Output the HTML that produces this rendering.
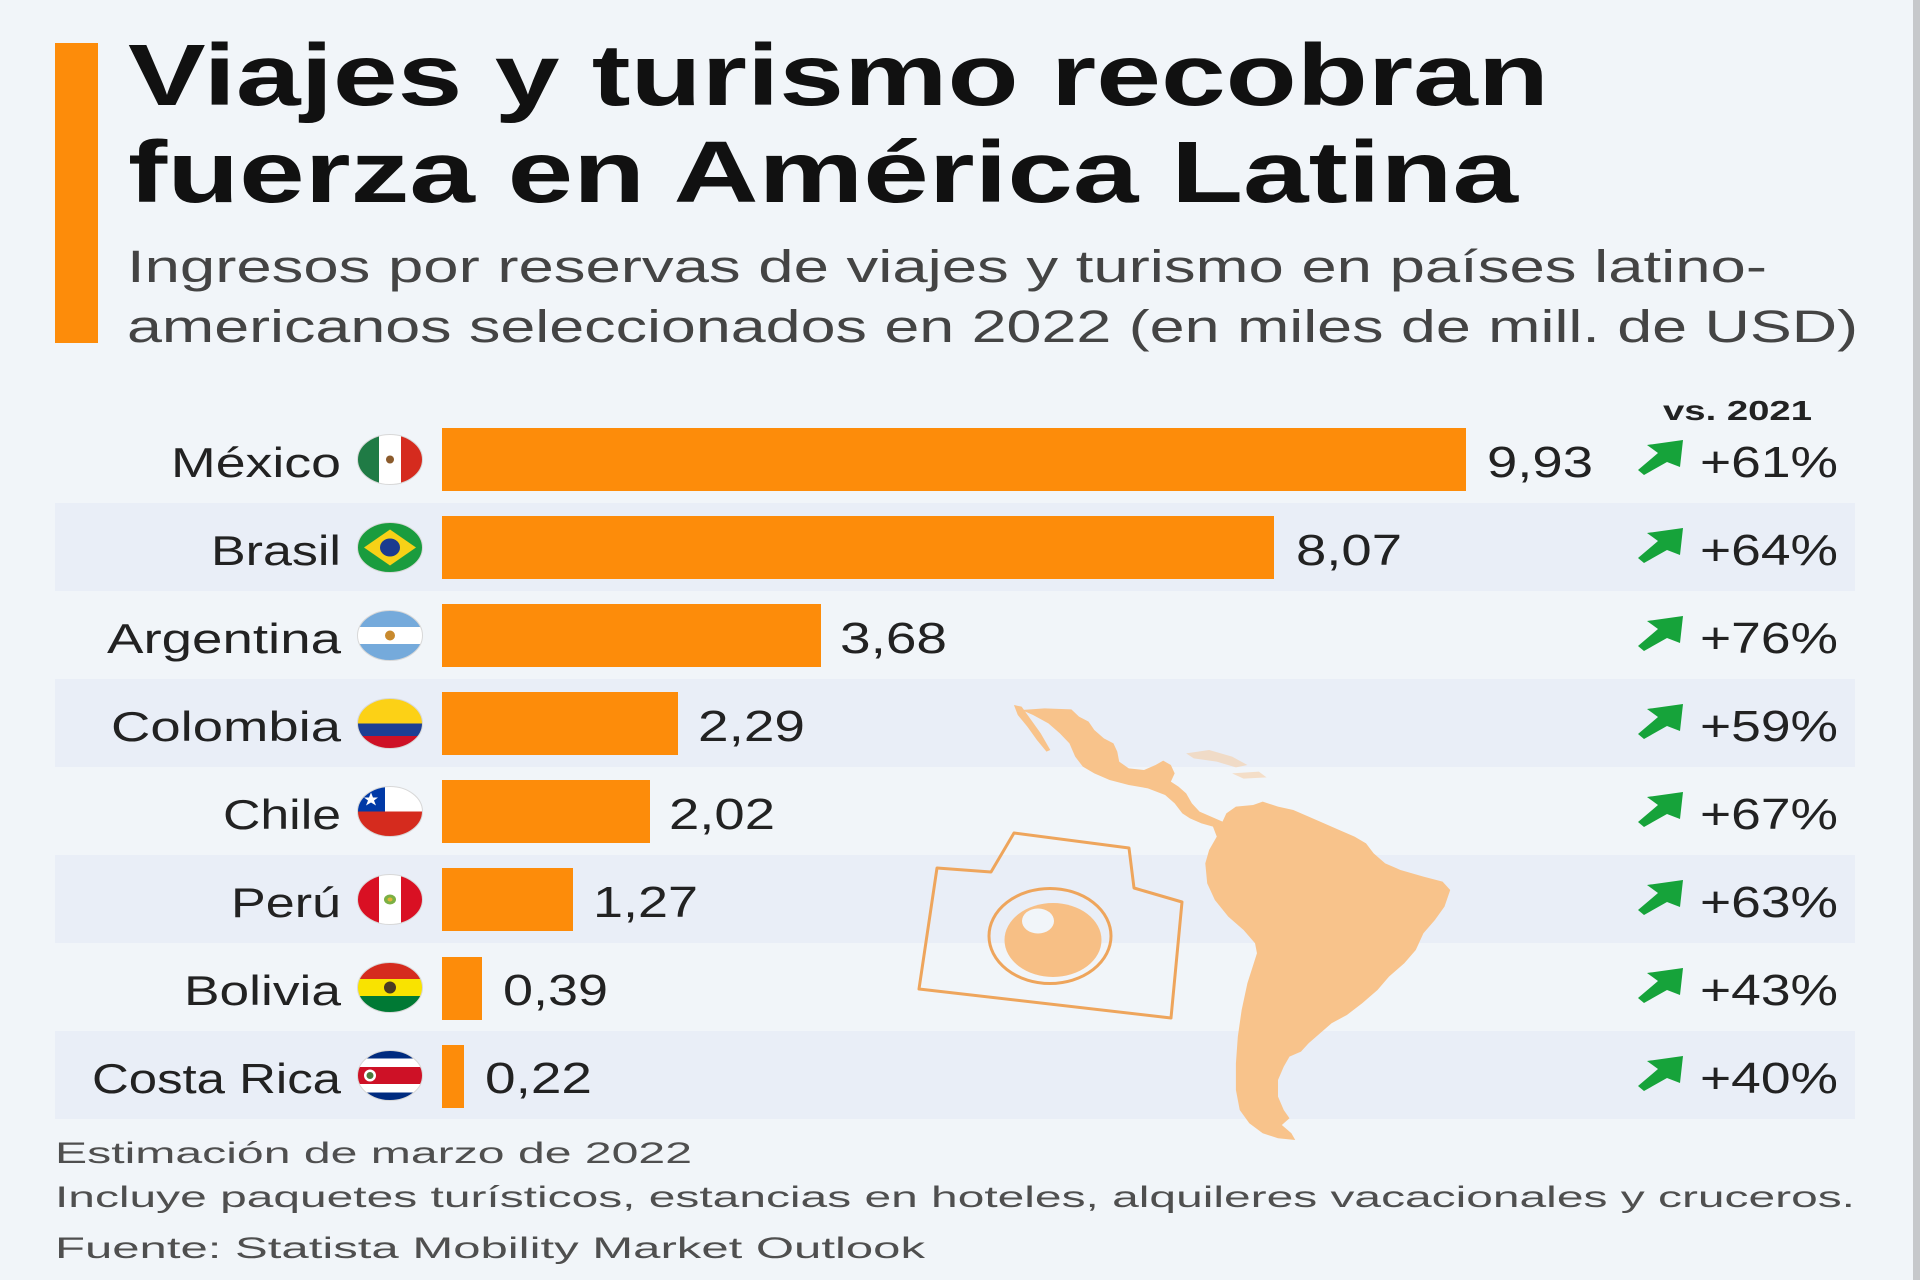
<!DOCTYPE html>
<html>
<head>
<meta charset="utf-8">
<style>
html,body{margin:0;padding:0;background:#f1f5f9;}
svg{display:block;}
text{font-family:"Liberation Sans",Arial,sans-serif;}
</style>
</head>
<body>
<svg width="1920" height="1280" viewBox="0 0 1920 1280" xmlns="http://www.w3.org/2000/svg">
<defs>
  <clipPath id="fc"><ellipse cx="0" cy="0" rx="32.5" ry="25"/></clipPath>
</defs>
<rect width="1920" height="1280" fill="#f1f5f9"/>
<rect x="1913" y="0" width="7" height="1280" fill="#c6c8cb"/>

<!-- accent bar -->
<rect x="55" y="43" width="43" height="300" fill="#fd8c0a"/>

<!-- title -->
<text x="128" y="105" font-size="87" font-weight="bold" fill="#111" textLength="1421" lengthAdjust="spacingAndGlyphs">Viajes y turismo recobran</text>
<text x="128" y="202" font-size="87" font-weight="bold" fill="#111" textLength="1390" lengthAdjust="spacingAndGlyphs">fuerza en América Latina</text>

<!-- subtitle -->
<text x="127" y="282" font-size="45" fill="#444" textLength="1640" lengthAdjust="spacingAndGlyphs">Ingresos por reservas de viajes y turismo en países latino-</text>
<text x="127" y="342" font-size="45" fill="#444" textLength="1731" lengthAdjust="spacingAndGlyphs">americanos seleccionados en 2022 (en miles de mill. de USD)</text>

<!-- bands -->
<g fill="#e9eef7">
  <rect x="55" y="503" width="1800" height="88"/>
  <rect x="55" y="679" width="1800" height="88"/>
  <rect x="55" y="855" width="1800" height="88"/>
  <rect x="55" y="1031" width="1800" height="88"/>
</g>

<!-- map -->
<g transform="translate(880,690) scale(0.3827,0.3333)" fill="#f8c38b">
  <path d="M370,60 L430,55 L500,58 L520,80 L545,95 L560,120 L585,145 L610,160 L620,185 L625,215 L650,235 L690,240 L720,225 L740,212 L760,225 L770,250 L760,275 L780,290 L800,310 L815,340 L835,365 L865,380 L895,395 L905,370 L930,350 L975,345 L1000,335 L1040,350 L1080,360 L1120,380 L1150,395 L1200,420 L1240,440 L1270,460 L1290,490 L1320,520 L1360,540 L1420,560 L1470,575 L1490,600 L1475,650 L1450,690 L1420,730 L1400,780 L1370,820 L1330,860 L1300,900 L1260,940 L1220,975 L1180,1000 L1150,1030 L1120,1060 L1100,1085 L1070,1100 L1055,1130 L1040,1170 L1040,1220 L1055,1260 L1070,1285 L1050,1305 L1075,1330 L1085,1350 L1040,1345 L1000,1330 L965,1300 L940,1260 L930,1200 L930,1120 L935,1040 L945,960 L960,880 L985,790 L980,760 L950,720 L910,680 L875,630 L855,580 L850,520 L860,480 L880,440 L870,410 L840,400 L810,385 L790,370 L770,340 L745,315 L700,295 L650,285 L600,270 L560,250 L530,230 L510,200 L495,160 L470,130 L440,100 L400,75 Z"/>
  <path d="M350,45 L370,50 L395,90 L420,130 L445,180 L435,185 L410,150 L385,110 L360,75 Z"/>
  <path opacity="0.45" d="M800,190 L860,180 L920,200 L960,225 L930,232 L880,215 L820,205 Z"/>
  <path opacity="0.45" d="M920,250 L990,245 L1010,262 L950,266 Z"/>
</g>

<!-- camera -->
<g fill="none" stroke="#eea55c" stroke-width="3" stroke-linejoin="round">
  <path d="M937,868 L991,872 L1014,833 L1129,848 L1134,888 L1182,902 L1171,1018 L919,989 Z"/>
  <ellipse cx="1050" cy="936" rx="61" ry="47.5"/>
</g>
<ellipse cx="1053" cy="940" rx="48.5" ry="37" fill="#f7bf85"/>
<ellipse cx="1038" cy="921" rx="16" ry="12.5" fill="#f1f5f9"/>

<!-- bars -->
<g fill="#fd8c0a">
  <rect x="442" y="428" width="1024" height="63"/>
  <rect x="442" y="516" width="832" height="63"/>
  <rect x="442" y="604" width="379" height="63"/>
  <rect x="442" y="692" width="236" height="63"/>
  <rect x="442" y="780" width="208" height="63"/>
  <rect x="442" y="868" width="131" height="63"/>
  <rect x="442" y="957" width="40" height="63"/>
  <rect x="442" y="1045" width="22" height="63"/>
</g>

<!-- country labels -->
<g font-size="42" fill="#222" text-anchor="end">
  <text x="341" y="477" textLength="170" lengthAdjust="spacingAndGlyphs">México</text>
  <text x="341" y="565" textLength="130" lengthAdjust="spacingAndGlyphs">Brasil</text>
  <text x="341" y="653" textLength="234" lengthAdjust="spacingAndGlyphs">Argentina</text>
  <text x="341" y="741" textLength="230" lengthAdjust="spacingAndGlyphs">Colombia</text>
  <text x="341" y="829" textLength="118" lengthAdjust="spacingAndGlyphs">Chile</text>
  <text x="341" y="917" textLength="110" lengthAdjust="spacingAndGlyphs">Perú</text>
  <text x="341" y="1005" textLength="157" lengthAdjust="spacingAndGlyphs">Bolivia</text>
  <text x="341" y="1093" textLength="249" lengthAdjust="spacingAndGlyphs">Costa Rica</text>
</g>

<!-- flags -->
<g transform="translate(390,459.5)"><g clip-path="url(#fc)">
  <rect x="-33" y="-26" width="22" height="52" fill="#1f7b45"/>
  <rect x="-11" y="-26" width="22" height="52" fill="#ffffff"/>
  <rect x="11" y="-26" width="22" height="52" fill="#d52b1e"/>
  <ellipse cx="0" cy="0" rx="4" ry="4" fill="#8b5a2b"/>
</g><ellipse rx="32.5" ry="25" fill="none" stroke="#d8d8d8" stroke-width="1"/></g>

<g transform="translate(390,547.5)"><g clip-path="url(#fc)">
  <rect x="-33" y="-26" width="66" height="52" fill="#1a9c3e"/>
  <polygon points="-26,0 0,-18 26,0 0,18" fill="#f7d117"/>
  <ellipse cx="0" cy="0" rx="10" ry="9" fill="#1b3b8f"/>
</g><ellipse rx="32.5" ry="25" fill="none" stroke="#d8d8d8" stroke-width="1"/></g>

<g transform="translate(390,635.5)"><g clip-path="url(#fc)">
  <rect x="-33" y="-26" width="66" height="52" fill="#75aadb"/>
  <rect x="-33" y="-8.5" width="66" height="17" fill="#ffffff"/>
  <ellipse cx="0" cy="0" rx="5" ry="5" fill="#c88a2e"/>
</g><ellipse rx="32.5" ry="25" fill="none" stroke="#d8d8d8" stroke-width="1"/></g>

<g transform="translate(390,723.5)"><g clip-path="url(#fc)">
  <rect x="-33" y="-26" width="66" height="26" fill="#fcd116"/>
  <rect x="-33" y="0" width="66" height="12.5" fill="#1c3f94"/>
  <rect x="-33" y="12.5" width="66" height="14" fill="#ce1126"/>
</g><ellipse rx="32.5" ry="25" fill="none" stroke="#d8d8d8" stroke-width="1"/></g>

<g transform="translate(390,811.5)"><g clip-path="url(#fc)">
  <rect x="-33" y="-26" width="66" height="26" fill="#ffffff"/>
  <rect x="-33" y="-26" width="28" height="26" fill="#0039a6"/>
  <rect x="-33" y="0" width="66" height="26" fill="#d52b1e"/>
  <polygon points="-19,-19 -17,-14 -12,-14 -16,-11 -14,-6 -19,-9 -24,-6 -22,-11 -26,-14 -21,-14" fill="#ffffff"/>
</g><ellipse rx="32.5" ry="25" fill="none" stroke="#d8d8d8" stroke-width="1"/></g>

<g transform="translate(390,899.5)"><g clip-path="url(#fc)">
  <rect x="-33" y="-26" width="22" height="52" fill="#d91023"/>
  <rect x="-11" y="-26" width="22" height="52" fill="#ffffff"/>
  <rect x="11" y="-26" width="22" height="52" fill="#d91023"/>
  <ellipse cx="0" cy="0" rx="6" ry="5" fill="#7bb043"/>
  <ellipse cx="0" cy="0" rx="2.5" ry="2" fill="#e3b33a"/>
</g><ellipse rx="32.5" ry="25" fill="none" stroke="#d8d8d8" stroke-width="1"/></g>

<g transform="translate(390,987.5)"><g clip-path="url(#fc)">
  <rect x="-33" y="-26" width="66" height="18" fill="#d52b1e"/>
  <rect x="-33" y="-8.5" width="66" height="17" fill="#f9e300"/>
  <rect x="-33" y="8.5" width="66" height="18" fill="#007934"/>
  <ellipse cx="0" cy="0" rx="6" ry="6" fill="#4a3a22"/>
</g><ellipse rx="32.5" ry="25" fill="none" stroke="#d8d8d8" stroke-width="1"/></g>

<g transform="translate(390,1075.5)"><g clip-path="url(#fc)">
  <rect x="-33" y="-26" width="66" height="52" fill="#002b7f"/>
  <rect x="-33" y="-17" width="66" height="34" fill="#ffffff"/>
  <rect x="-33" y="-8.5" width="66" height="17" fill="#ce1126"/>
  <ellipse cx="-20" cy="0" rx="6" ry="6" fill="#ffffff"/>
  <ellipse cx="-20" cy="0" rx="3.5" ry="3.5" fill="#4a7a3a"/>
</g><ellipse rx="32.5" ry="25" fill="none" stroke="#d8d8d8" stroke-width="1"/></g>

<!-- value labels -->
<g font-size="44" fill="#222">
  <text x="1487" y="477" textLength="106" lengthAdjust="spacingAndGlyphs">9,93</text>
  <text x="1296" y="565" textLength="106" lengthAdjust="spacingAndGlyphs">8,07</text>
  <text x="840" y="653" textLength="107" lengthAdjust="spacingAndGlyphs">3,68</text>
  <text x="698" y="741" textLength="107" lengthAdjust="spacingAndGlyphs">2,29</text>
  <text x="669" y="829" textLength="106" lengthAdjust="spacingAndGlyphs">2,02</text>
  <text x="593" y="917" textLength="105" lengthAdjust="spacingAndGlyphs">1,27</text>
  <text x="503" y="1005" textLength="105" lengthAdjust="spacingAndGlyphs">0,39</text>
  <text x="485" y="1093" textLength="107" lengthAdjust="spacingAndGlyphs">0,22</text>
</g>

<!-- vs 2021 -->
<text x="1663" y="420" font-size="28" font-weight="bold" fill="#222" textLength="149" lengthAdjust="spacingAndGlyphs">vs. 2021</text>

<!-- arrows -->
<g fill="#16a33a">
  <polygon transform="translate(1637,440)" points="46,0 10,5 21,13 1,30 7,35 30,22 43,27"/>
  <polygon transform="translate(1637,528)" points="46,0 10,5 21,13 1,30 7,35 30,22 43,27"/>
  <polygon transform="translate(1637,616)" points="46,0 10,5 21,13 1,30 7,35 30,22 43,27"/>
  <polygon transform="translate(1637,704)" points="46,0 10,5 21,13 1,30 7,35 30,22 43,27"/>
  <polygon transform="translate(1637,792)" points="46,0 10,5 21,13 1,30 7,35 30,22 43,27"/>
  <polygon transform="translate(1637,880)" points="46,0 10,5 21,13 1,30 7,35 30,22 43,27"/>
  <polygon transform="translate(1637,968)" points="46,0 10,5 21,13 1,30 7,35 30,22 43,27"/>
  <polygon transform="translate(1637,1056)" points="46,0 10,5 21,13 1,30 7,35 30,22 43,27"/>
</g>

<!-- percent labels -->
<g font-size="44" fill="#222">
  <text x="1700" y="477" textLength="138" lengthAdjust="spacingAndGlyphs">+61%</text>
  <text x="1700" y="565" textLength="138" lengthAdjust="spacingAndGlyphs">+64%</text>
  <text x="1700" y="653" textLength="138" lengthAdjust="spacingAndGlyphs">+76%</text>
  <text x="1700" y="741" textLength="138" lengthAdjust="spacingAndGlyphs">+59%</text>
  <text x="1700" y="829" textLength="138" lengthAdjust="spacingAndGlyphs">+67%</text>
  <text x="1700" y="917" textLength="138" lengthAdjust="spacingAndGlyphs">+63%</text>
  <text x="1700" y="1005" textLength="138" lengthAdjust="spacingAndGlyphs">+43%</text>
  <text x="1700" y="1093" textLength="138" lengthAdjust="spacingAndGlyphs">+40%</text>
</g>

<!-- footer -->
<g font-size="30" fill="#4f4f4f">
  <text x="55" y="1163" textLength="637" lengthAdjust="spacingAndGlyphs">Estimación de marzo de 2022</text>
  <text x="55" y="1207" textLength="1800" lengthAdjust="spacingAndGlyphs">Incluye paquetes turísticos, estancias en hoteles, alquileres vacacionales y cruceros.</text>
  <text x="55" y="1258" textLength="870" lengthAdjust="spacingAndGlyphs">Fuente: Statista Mobility Market Outlook</text>
</g>
</svg>
</body>
</html>
